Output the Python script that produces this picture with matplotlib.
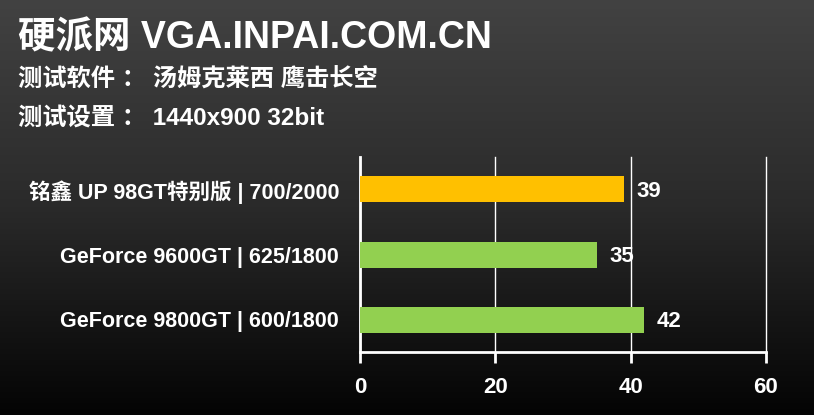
import numpy as np
import matplotlib
matplotlib.use("Agg")
import matplotlib.pyplot as plt
from matplotlib.colors import LinearSegmentedColormap

# chart data
cards = ["GeForce 9800GT | 600/1800", "GeForce 9600GT | 625/1800", "铭鑫 UP 98GT特别版 | 700/2000"]
fps = [42, 35, 39]
bar_colors = ["#92D050", "#92D050", "#FFC000"]
x_ticks = [0, 20, 40, 60]

title = "硬派网 VGA.INPAI.COM.CN"
line1 = "测试软件 ： 汤姆克莱西 鹰击长空"
line2 = "测试设置 ： 1440x900 32bit"

fonts = ["Liberation Sans", "Noto Sans CJK SC", "DejaVu Sans"]
plt.rcParams["font.family"] = fonts

fig = plt.figure(figsize=(8.14, 4.15), dpi=100)

# gradient background
bg = fig.add_axes([0, 0, 1, 1])
bg.set_axis_off()
cmap = LinearSegmentedColormap.from_list("bg", ["#424242", "#2a2a2a", "#040404"])
grad = np.linspace(0, 1, 256).reshape(-1, 1)
bg.imshow(grad, aspect="auto", cmap=cmap, extent=[0, 1, 0, 1], zorder=0)
bg.set_xlim(0, 1)
bg.set_ylim(0, 1)

fig.text(18 / 814, 1 - 38 / 415, title, color="white", fontsize=27, fontweight="bold", va="center", ha="left")
fig.text(18 / 814, 1 - 80 / 415, line1, color="white", fontsize=17.5, fontweight="bold", va="center", ha="left")
fig.text(18 / 814, 1 - 118 / 415, line2, color="white", fontsize=17.5, fontweight="bold", va="center", ha="left")

ax = fig.add_axes([360 / 814, 1 - 352 / 415, 406 / 814, 195 / 415])
ax.patch.set_alpha(0)
y = np.arange(len(cards))
ax.barh(y, fps, height=0.4, color=bar_colors, zorder=3)
for yi, v in zip(y, fps):
    ax.text(v + 1.8, yi - 0.03, str(v), color="white", fontsize=16, fontweight="bold", va="center", ha="left")

ax.set_xlim(0, 60)
ax.set_ylim(-0.5, 2.5)
ax.set_xticks(x_ticks)
ax.set_xticklabels([str(t) for t in x_ticks])
ax.set_yticks(y)
ax.set_yticklabels(cards)
ax.xaxis.grid(True, color="white", linewidth=1)
ax.set_axisbelow(True)
for gl in ax.get_xgridlines():
    gl.set_clip_on(False)

for s in ["top", "right"]:
    ax.spines[s].set_visible(False)
for s in ["left", "bottom"]:
    ax.spines[s].set_color("white")
    ax.spines[s].set_linewidth(2)

ax.tick_params(axis="x", colors="white", length=8, width=2, direction="out", pad=10, labelsize=16)
ax.tick_params(axis="y", length=0, pad=15, colors="white", labelsize=15.5)
for lab in ax.get_xticklabels() + ax.get_yticklabels():
    lab.set_fontweight("bold")

fig.savefig("out.png", dpi=100)
